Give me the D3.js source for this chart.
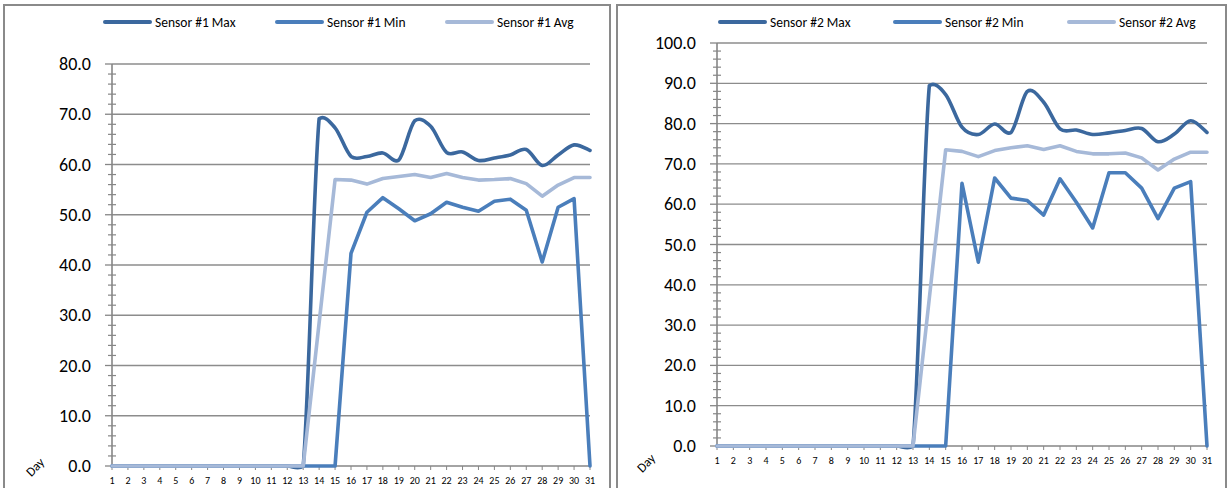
<!DOCTYPE html>
<html>
<head>
<meta charset="utf-8">
<script src="https://cdn.jsdelivr.net/npm/d3@7"></script>
<style>
  html, body { margin: 0; padding: 0; background: #fff; }
  svg { display: block; }
  text { font-family: Carlito, Lato, "Open Sans", sans-serif; fill: #000; }
</style>
</head>
<body>
<svg id="chart" width="1228" height="488"></svg>
<script>
// ---- data ----
const days = [1,2,3,4,5,6,7,8,9,10,11,12,13,14,15,16,17,18,19,20,21,22,23,24,25,26,27,28,29,30,31];

const s1Names = ["Sensor #1 Max", "Sensor #1 Min", "Sensor #1 Avg"];
const s1Max = [0,0,0,0,0,0,0,0,0,0,0,0,0, 69.1,67.3,61.6,61.6,62.3,60.9,68.7,67.6,62.4,62.5,60.8,61.3,61.9,63.0,59.8,61.9,63.9,62.8];
const s1Min = [0,0,0,0,0,0,0,0,0,0,0,0,0,0,0, 42.3,50.5,53.4,51.2,48.8,50.2,52.5,51.5,50.7,52.7,53.1,50.9,40.6,51.5,53.2, 0];
const s1Avg = [0,0,0,0,0,0,0,0,0,0,0,0,0, 28.5,57.0,56.9,56.1,57.2,57.6,58.0,57.4,58.2,57.4,56.9,57.0,57.2,56.2,53.7,55.9,57.4,57.4];
const s1Ticks = [0,10,20,30,40,50,60,70,80];

const s2Names = ["Sensor #2 Max", "Sensor #2 Min", "Sensor #2 Avg"];
const s2Max = [0,0,0,0,0,0,0,0,0,0,0,0,0, 89.4,87.2,79.1,77.3,79.9,77.8,88.0,85.3,78.7,78.4,77.3,77.7,78.3,78.8,75.5,77.4,80.7,77.8];
const s2Min = [0,0,0,0,0,0,0,0,0,0,0,0,0,0,0, 65.2,45.6,66.5,61.5,60.9,57.3,66.3,60.5,54.1,67.8,67.8,64.0,56.4,64.0,65.6, 0];
const s2Avg = [0,0,0,0,0,0,0,0,0,0,0,0,0, 36.7,73.5,73.1,71.8,73.3,74.0,74.5,73.6,74.5,73.1,72.5,72.5,72.7,71.5,68.5,71.2,72.9,72.9];
const s2Ticks = [0,10,20,30,40,50,60,70,80,90,100];

const minorStep = 2;
const xTitle = "Day";

// ---- styles ----
const colors = ["#3b689e", "#4a7ebb", "#a6b9d8"];
const smooth = [true, false, false];
const gridColor = "#8c8c8c";
const axisColor = "#868686";

// Excel-like smoothed line (Bezier, 1/6 tangents, limited overshoot)
function ExcelSmooth(context) { this._context = context; }
ExcelSmooth.prototype = {
  areaStart() {}, areaEnd() {},
  lineStart() { this._pts = []; },
  point(x, y) { this._pts.push([+x, +y]); },
  lineEnd() {
    const p = this._pts, c = this._context, n = p.length;
    if (!n) return;
    c.moveTo(p[0][0], p[0][1]);
    for (let i = 0; i < n - 1; i++) {
      const p0 = p[Math.max(i - 1, 0)], p1 = p[i], p2 = p[i + 1], p3 = p[Math.min(i + 2, n - 1)];
      const c1x = p1[0] + (p2[0] - p0[0]) / 6;
      let c1y = p1[1] + (p2[1] - p0[1]) / 6;
      const c2x = p2[0] - (p3[0] - p1[0]) / 6;
      let c2y = p2[1] - (p3[1] - p1[1]) / 6;
      const tol = Math.max(0.3 * Math.abs(p2[1] - p1[1]), 4);
      const lo = Math.min(p1[1], p2[1]) - tol, hi = Math.max(p1[1], p2[1]) + tol;
      c1y = Math.max(lo, Math.min(hi, c1y));
      c2y = Math.max(lo, Math.min(hi, c2y));
      c.bezierCurveTo(c1x, c1y, c2x, c2y, p2[0], p2[1]);
    }
  }
};
const curveExcel = ctx => new ExcelSmooth(ctx);

const svg = d3.select("#chart");

function drawChart(cfg) {
  const g = svg.append("g");
  g.append("rect")
    .attr("x", cfg.panel[0]).attr("y", cfg.panel[1])
    .attr("width", cfg.panel[2]).attr("height", cfg.panel[3])
    .attr("fill", "none").attr("stroke", "#8a8a8a").attr("stroke-width", 2);

  const x = d3.scalePoint().domain(days).range([cfg.x0, cfg.x1]);
  const yMax = cfg.ticks[cfg.ticks.length - 1];
  const y = d3.scaleLinear().domain([0, yMax]).range([cfg.y0, cfg.y1]);

  g.append("g").selectAll("line")
    .data(cfg.ticks.filter(t => t > 0))
    .join("line")
    .attr("x1", cfg.x0).attr("x2", cfg.x1)
    .attr("y1", d => y(d)).attr("y2", d => y(d))
    .attr("stroke", gridColor).attr("stroke-width", 1.3);

  g.append("line")
    .attr("x1", cfg.x0).attr("x2", cfg.x0)
    .attr("y1", y(0)).attr("y2", y(yMax))
    .attr("stroke", axisColor).attr("stroke-width", 1.6);

  const minors = d3.range(0, yMax + 0.001, minorStep).filter(v => cfg.ticks.indexOf(v) < 0);
  g.append("g").selectAll("line")
    .data(minors).join("line")
    .attr("x1", cfg.x0 - 4).attr("x2", cfg.x0 + 4)
    .attr("y1", d => y(d)).attr("y2", d => y(d))
    .attr("stroke", axisColor).attr("stroke-width", 1.2);

  g.append("g").selectAll("line")
    .data(cfg.ticks).join("line")
    .attr("x1", cfg.x0 - 7).attr("x2", cfg.x0)
    .attr("y1", d => y(d)).attr("y2", d => y(d))
    .attr("stroke", axisColor).attr("stroke-width", 1.3);

  g.append("g").selectAll("text")
    .data(cfg.ticks).join("text")
    .attr("x", cfg.x0 - 21).attr("y", d => y(d))
    .attr("text-anchor", "end").attr("dominant-baseline", "central")
    .style("font-size", "18px")
    .text(d => d3.format(".1f")(d));

  g.append("line")
    .attr("x1", cfg.x0).attr("x2", cfg.x1)
    .attr("y1", y(0)).attr("y2", y(0))
    .attr("stroke", axisColor).attr("stroke-width", 1.6);

  g.append("g").selectAll("line")
    .data(days).join("line")
    .attr("x1", d => x(d)).attr("x2", d => x(d))
    .attr("y1", y(0)).attr("y2", y(0) + 4)
    .attr("stroke", axisColor).attr("stroke-width", 1);

  g.append("g").selectAll("text")
    .data(days).join("text")
    .attr("x", d => x(d)).attr("y", y(0) + 14)
    .attr("text-anchor", "middle").attr("dominant-baseline", "central")
    .style("font-size", "10px")
    .text(d => d);

  g.append("text")
    .attr("transform", `translate(${cfg.dayPos[0]},${cfg.dayPos[1]}) rotate(-45)`)
    .attr("text-anchor", "middle").attr("dominant-baseline", "central")
    .style("font-size", "13px")
    .text(xTitle);

  cfg.series.forEach((vals, i) => {
    const line = d3.line()
      .x((d, k) => x(days[k]))
      .y(d => y(d))
      .curve(smooth[i] ? curveExcel : d3.curveLinear);
    g.append("path")
      .datum(vals)
      .attr("d", line)
      .attr("fill", "none")
      .attr("stroke", colors[i])
      .attr("stroke-width", 3.6)
      .attr("stroke-linejoin", "round")
      .attr("stroke-linecap", "round");
  });

  cfg.names.forEach((name, i) => {
    const lx = cfg.legendX[i];
    g.append("line")
      .attr("x1", lx).attr("x2", lx + 45)
      .attr("y1", cfg.legendY).attr("y2", cfg.legendY)
      .attr("stroke", colors[i]).attr("stroke-width", 4)
      .attr("stroke-linecap", "round");
    g.append("text")
      .attr("x", lx + 50).attr("y", cfg.legendY)
      .attr("dominant-baseline", "central")
      .style("font-size", "13.5px")
      .text(name);
  });
}

drawChart({
  panel: [4, 5, 606, 500],
  x0: 112, x1: 590, y0: 466, y1: 64,
  ticks: s1Ticks,
  series: [s1Max, s1Min, s1Avg],
  names: s1Names,
  legendX: [105, 277, 447],
  legendY: 22,
  dayPos: [35, 467]
});

drawChart({
  panel: [617, 5, 609, 500],
  x0: 717, x1: 1207, y0: 446, y1: 43,
  ticks: s2Ticks,
  series: [s2Max, s2Min, s2Avg],
  names: s2Names,
  legendX: [720, 895, 1069],
  legendY: 22,
  dayPos: [646, 463]
});
</script>
</body>
</html>
